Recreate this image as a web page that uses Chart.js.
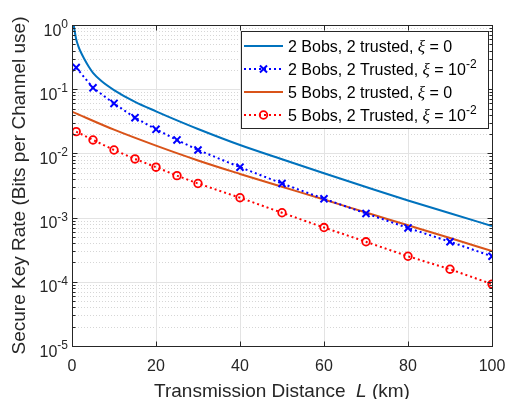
<!DOCTYPE html>
<html>
<head>
<meta charset="utf-8">
<script src="https://cdn.jsdelivr.net/npm/chart.js@4/dist/chart.umd.min.js"></script>
<style>
  body { margin: 0; background: #fff; }
</style>
</head>
<body>
<canvas id="graficoTaxa" width="507" height="399"></canvas>
<script>
// distances (km) and key rates
const distSolid = [0.4, 1, 1.5, 2, 3, 4, 5, 7, 10, 15, 20, 25, 30, 40, 50, 60, 70, 80, 90, 100];
const rate2BobsXi0 = [1.0, 0.6, 0.47, 0.39, 0.29, 0.224, 0.18, 0.134, 0.097, 0.0635, 0.0452, 0.0327, 0.024, 0.0135, 0.0081, 0.0049, 0.003, 0.00185, 0.00117, 0.00074];

const distOrange = [0, 10, 20, 30, 40, 50, 60, 70, 80, 90, 100];
const rate5BobsXi0 = [0.0447, 0.0234, 0.0132, 0.00776, 0.00479, 0.00302, 0.00191, 0.0012, 0.00076, 0.00048, 0.0003];

const distMarkers = [1, 5, 10, 15, 20, 25, 30, 40, 50, 60, 70, 80, 90, 100];
const rate2BobsXi2 = [0.217, 0.105, 0.06, 0.036, 0.0237, 0.0162, 0.0113, 0.0061, 0.0034, 0.00196, 0.00116, 0.00069, 0.00042, 0.00025];
const rate5BobsXi2 = [0.0218, 0.0162, 0.0113, 0.0082, 0.0061, 0.0045, 0.0034, 0.00204, 0.00119, 0.0007, 0.00042, 0.00025, 0.000157, 0.000092];

const xTicks = [0, 20, 40, 60, 80, 100];
const yTickExps = [0, -1, -2, -3, -4, -5];

const seriesNames = ['2 Bobs, 2 trusted, ', '2 Bobs, 2 Trusted, ', '5 Bobs, 2 trusted, ', '5 Bobs, 2 Trusted, '];
const xiBase = ['0', '10', '0', '10'];
const xiExp = ['', '-2', '', '-2'];

const AXIS = '#262626';
const SANS = '"Liberation Sans", Arial, sans-serif';
const SERIF = '"Liberation Serif", "DejaVu Serif", serif';

function pts(xs, ys) {
    return xs.map((x, i) => ({ x: x, y: ys[i] }));
}

// draw a run of text pieces (different fonts / raised exponents)
function drawParts(c, parts, x, y) {
    parts.forEach(p => {
        c.font = p.font;
        c.fillText(p.t, x, y + (p.dy || 0));
        x += c.measureText(p.t).width;
    });
}

function partsWidth(c, parts) {
    let w = 0;
    parts.forEach(p => { c.font = p.font; w += c.measureText(p.t).width; });
    return w;
}

function drawMarker(c, style, x, y, r) {
    c.beginPath();
    if (style === 'crossRot') {
        const d = r * 0.7071;
        c.moveTo(x - d, y - d); c.lineTo(x + d, y + d);
        c.moveTo(x - d, y + d); c.lineTo(x + d, y - d);
    } else {
        c.arc(x, y, r, 0, Math.PI * 2);
    }
    c.stroke();
}

const axesPlugin = {
    id: 'axesPlugin',
    beforeDatasetsDraw(chart) {
        const c = chart.ctx, a = chart.chartArea;
        const sx = chart.scales.x, sy = chart.scales.y;
        c.save();
        c.lineWidth = 1;
        // minor log grid, dotted
        c.strokeStyle = '#d6d6d6';
        c.setLineDash([1, 2]);
        for (let e = -5; e < 0; e++) {
            for (let m = 2; m <= 9; m++) {
                const y = Math.round(sy.getPixelForValue(m * Math.pow(10, e))) + 0.5;
                c.beginPath(); c.moveTo(a.left, y); c.lineTo(a.right, y); c.stroke();
            }
        }
        c.setLineDash([]);
        c.strokeStyle = '#e3e3e3';
        yTickExps.forEach(e => {
            const y = Math.round(sy.getPixelForValue(Math.pow(10, e))) + 0.5;
            c.beginPath(); c.moveTo(a.left, y); c.lineTo(a.right, y); c.stroke();
        });
        xTicks.forEach(v => {
            const x = Math.round(sx.getPixelForValue(v)) + 0.5;
            c.beginPath(); c.moveTo(x, a.top); c.lineTo(x, a.bottom); c.stroke();
        });
        c.restore();
    },
    afterDraw(chart) {
        const c = chart.ctx, a = chart.chartArea;
        const sx = chart.scales.x, sy = chart.scales.y;
        const L = Math.round(a.left) + 0.5, R = Math.round(a.right) + 0.5;
        const T = Math.round(a.top) + 0.5, B = Math.round(a.bottom) + 0.5;
        c.save();
        c.strokeStyle = AXIS;
        c.fillStyle = AXIS;
        c.lineWidth = 1;

        // ticks
        c.beginPath();
        xTicks.forEach(v => {
            const x = Math.round(sx.getPixelForValue(v)) + 0.5;
            c.moveTo(x, B); c.lineTo(x, B - 5);
            c.moveTo(x, T); c.lineTo(x, T + 5);
        });
        for (let e = -5; e <= 0; e++) {
            const y = Math.round(sy.getPixelForValue(Math.pow(10, e))) + 0.5;
            c.moveTo(L, y); c.lineTo(L + 5, y);
            c.moveTo(R, y); c.lineTo(R - 5, y);
            if (e === 0) continue;
            for (let m = 2; m <= 9; m++) {
                const ym = Math.round(sy.getPixelForValue(m * Math.pow(10, e))) + 0.5;
                c.moveTo(L, ym); c.lineTo(L + 3, ym);
                c.moveTo(R, ym); c.lineTo(R - 3, ym);
            }
        }
        c.stroke();
        c.strokeRect(L, T, R - L, B - T);

        // x tick labels
        c.textAlign = 'center';
        c.textBaseline = 'alphabetic';
        c.font = '16px ' + SANS;
        xTicks.forEach(v => {
            c.fillText(String(v), sx.getPixelForValue(v), 371);
        });

        // y tick labels 10^e
        c.textAlign = 'left';
        yTickExps.forEach(e => {
            const y = sy.getPixelForValue(Math.pow(10, e));
            const parts = [
                { t: '10', font: '16px ' + SANS },
                { t: String(e), font: '12px ' + SANS, dy: -7.5 }
            ];
            const w = partsWidth(c, parts);
            drawParts(c, parts, 68 - w, y + 10.5);
        });

        // x title
        const xt = [
            { t: 'Transmission Distance  ', font: '19px ' + SANS },
            { t: 'L', font: 'italic 19px ' + SANS },
            { t: ' (km)', font: '19px ' + SANS }
        ];
        drawParts(c, xt, (a.left + a.right) / 2 - partsWidth(c, xt) / 2, 397);

        // y title
        c.save();
        c.translate(25, (a.top + a.bottom) / 2);
        c.rotate(-Math.PI / 2);
        c.textAlign = 'center';
        c.font = '19px ' + SANS;
        c.fillText('Secure Key Rate (Bits per Channel use)', 0, 0);
        c.restore();

        // legend
        c.fillStyle = '#fff';
        c.fillRect(241.5, 31.5, 247, 97);
        c.strokeStyle = AXIS;
        c.strokeRect(241.5, 31.5, 247, 97);
        chart.data.datasets.forEach((ds, i) => {
            const yc = 46 + i * 23;
            c.save();
            c.strokeStyle = ds.borderColor;
            c.lineWidth = ds.borderWidth;
            c.setLineDash(ds.borderDash || []);
            c.beginPath(); c.moveTo(244, yc); c.lineTo(283, yc); c.stroke();
            c.setLineDash([]);
            if (ds.pointRadius > 0) {
                c.lineWidth = ds.pointBorderWidth;
                drawMarker(c, ds.pointStyle, 263.5, yc, ds.pointRadius);
            }
            c.restore();
            c.fillStyle = '#000';
            const parts = [
                { t: seriesNames[i], font: '16px ' + SANS },
                { t: '\u03BE', font: 'italic 17px ' + SERIF },
                { t: ' = ' + xiBase[i], font: '16px ' + SANS }
            ];
            if (xiExp[i]) parts.push({ t: xiExp[i], font: '12px ' + SANS, dy: -7 });
            drawParts(c, parts, 288, yc + 6);
        });
        c.restore();
    }
};

let grafico = new Chart(document.getElementById('graficoTaxa'), {
    type: 'line',
    data: {
        datasets: [{
            label: '2 Bobs, 2 trusted, \u03BE = 0',
            data: pts(distSolid, rate2BobsXi0),
            borderColor: '#0072BD',
            borderWidth: 2,
            pointRadius: 0,
            cubicInterpolationMode: 'monotone'
        }, {
            label: '2 Bobs, 2 Trusted, \u03BE = 10^-2',
            data: pts(distMarkers, rate2BobsXi2),
            borderColor: '#0000FF',
            borderWidth: 2,
            borderDash: [2, 3],
            pointStyle: 'crossRot',
            pointRadius: 5,
            pointBorderWidth: 2,
            pointBorderColor: '#0000FF',
            pointBackgroundColor: 'rgba(0,0,0,0)'
        }, {
            label: '5 Bobs, 2 trusted, \u03BE = 0',
            data: pts(distOrange, rate5BobsXi0),
            borderColor: '#D95319',
            borderWidth: 2,
            pointRadius: 0,
            cubicInterpolationMode: 'monotone'
        }, {
            label: '5 Bobs, 2 Trusted, \u03BE = 10^-2',
            data: pts(distMarkers, rate5BobsXi2),
            borderColor: '#FF0000',
            borderWidth: 2,
            borderDash: [2, 3],
            pointStyle: 'circle',
            pointRadius: 3.8,
            pointBorderWidth: 1.8,
            pointBorderColor: '#FF0000',
            pointBackgroundColor: 'rgba(0,0,0,0)'
        }]
    },
    options: {
        responsive: false,
        animation: false,
        layout: { padding: { left: 72, top: 25, right: 15, bottom: 53 } },
        plugins: { legend: { display: false }, tooltip: { enabled: false } },
        scales: {
            x: { type: 'linear', min: 0, max: 100, display: false },
            y: { type: 'logarithmic', min: 1e-5, max: 1, display: false }
        }
    },
    plugins: [axesPlugin]
});
</script>
</body>
</html>
